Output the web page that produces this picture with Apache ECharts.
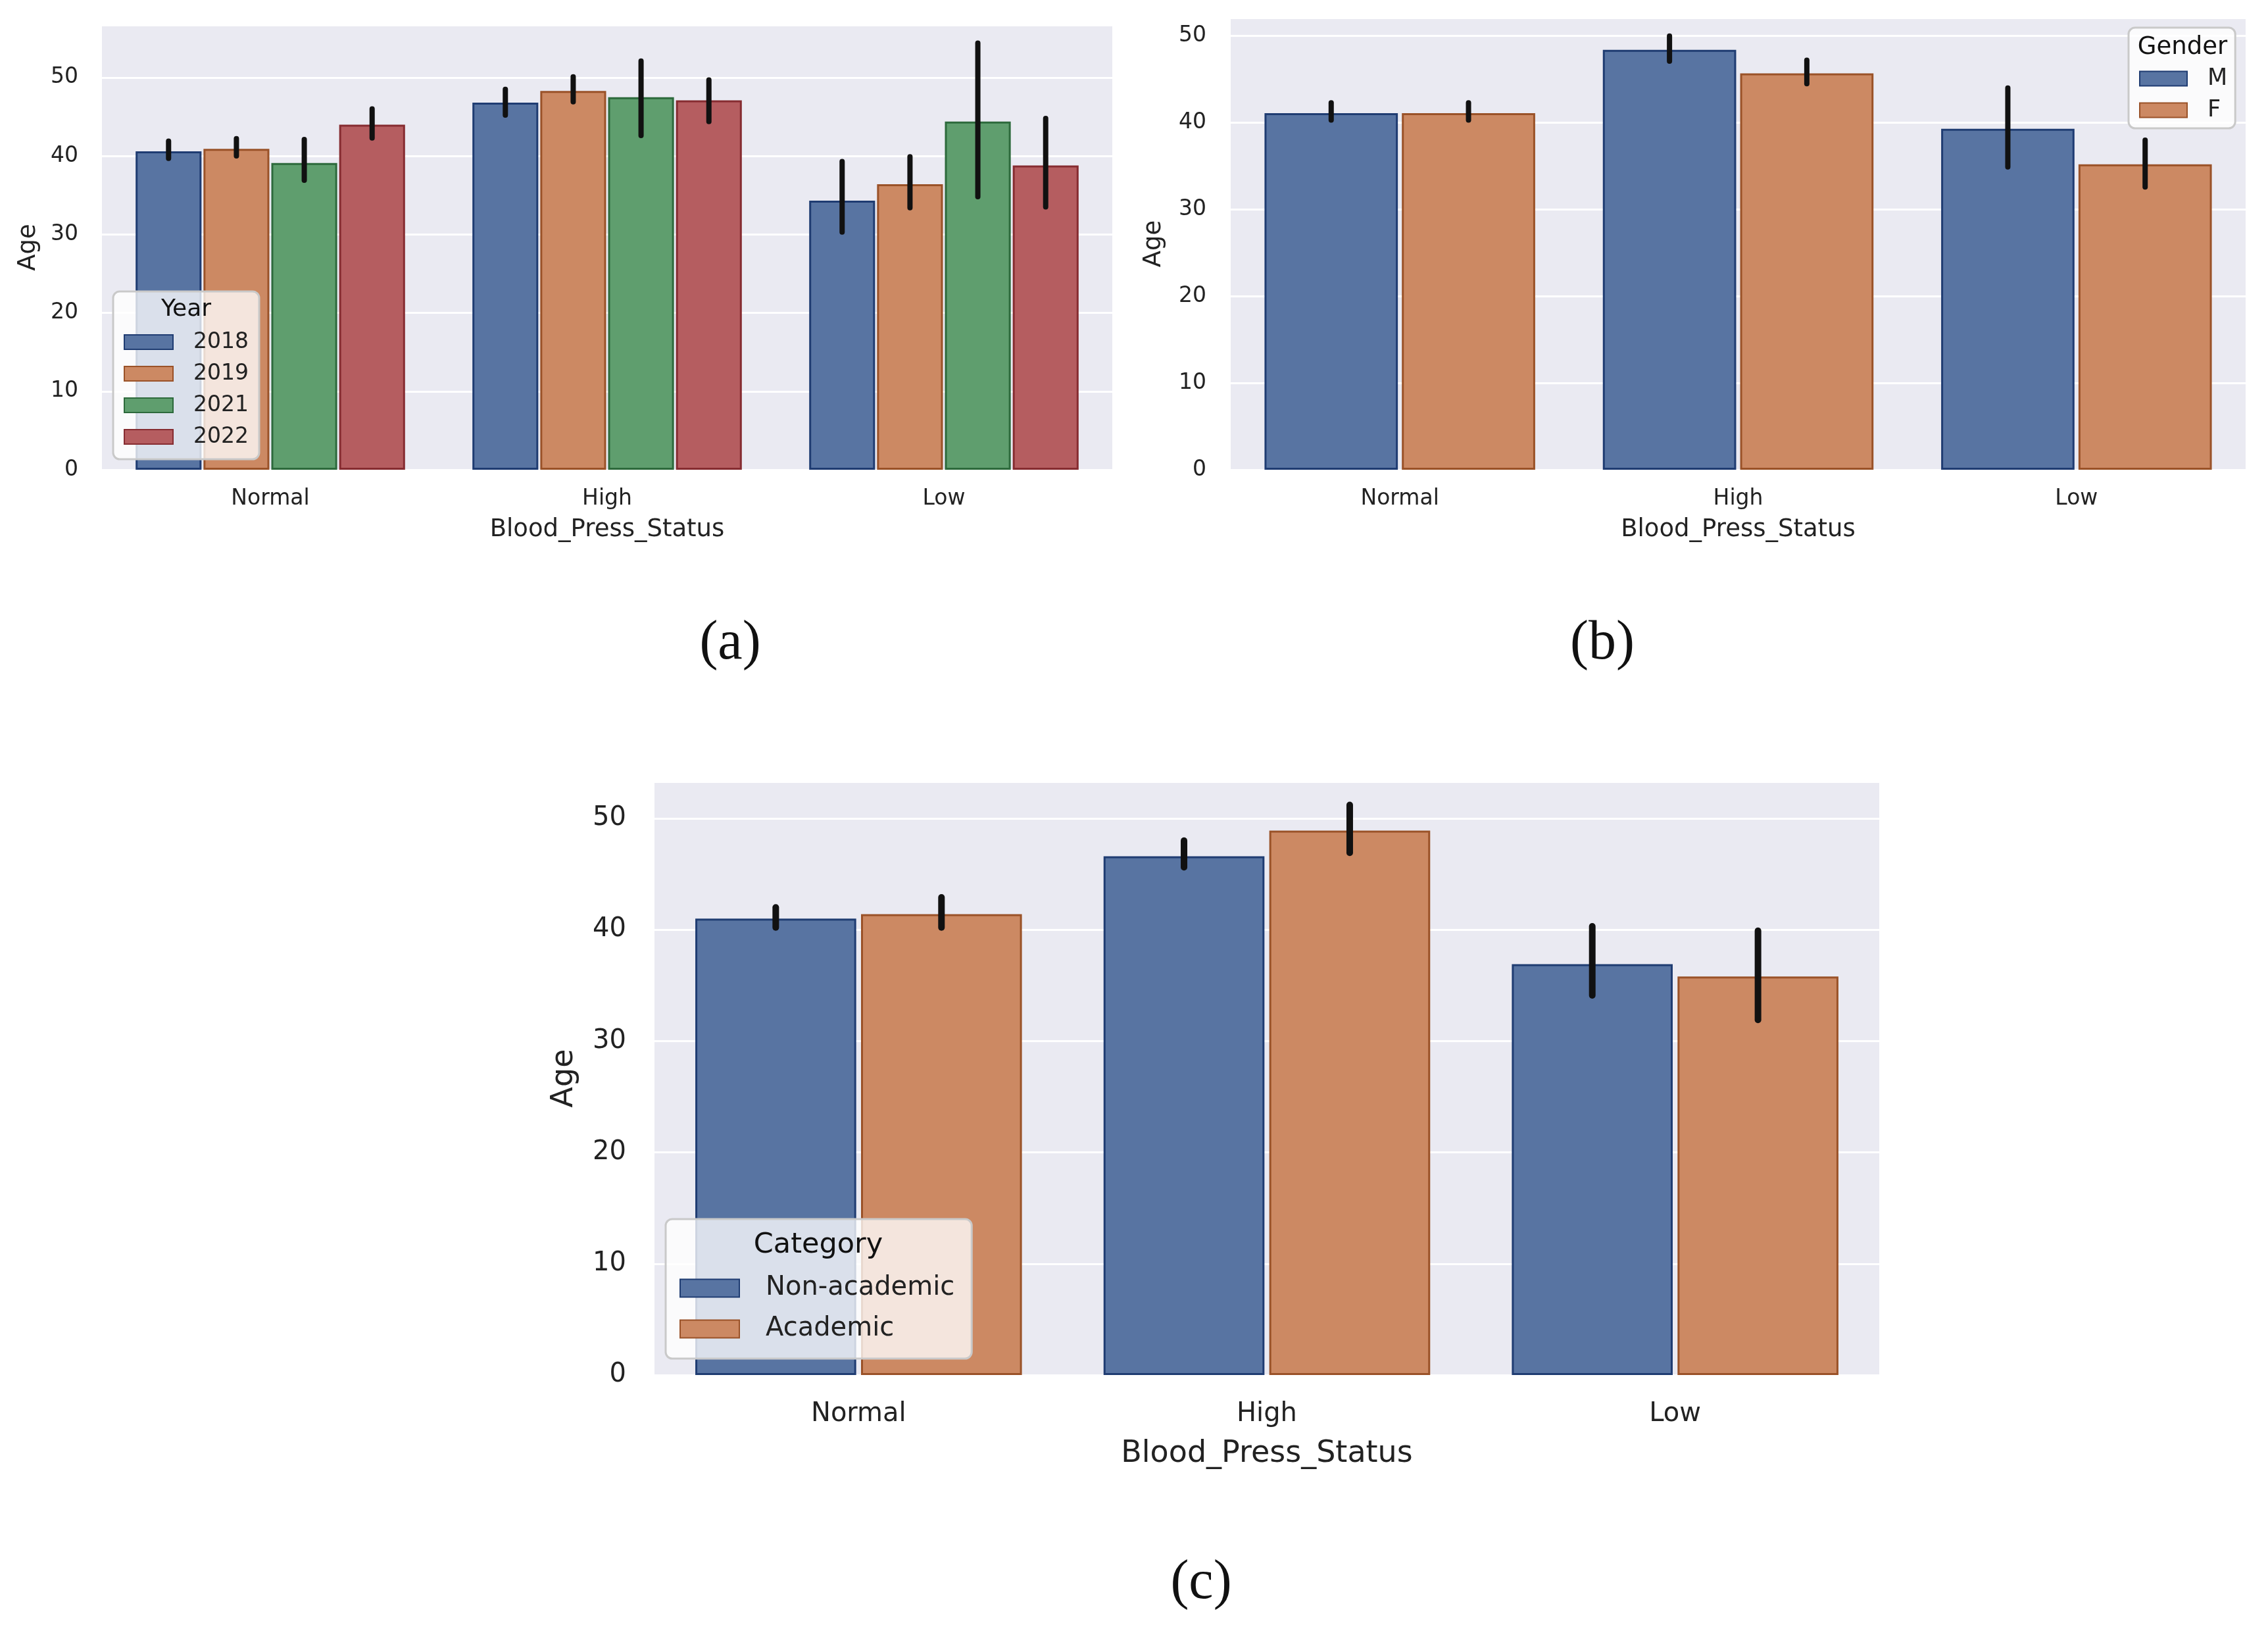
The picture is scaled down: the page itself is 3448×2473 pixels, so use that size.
<!DOCTYPE html>
<html>
<head>
<meta charset="utf-8">
<script src="https://cdn.jsdelivr.net/npm/echarts@6/dist/echarts.min.js"></script>
<style>
html,body{margin:0;padding:0;background:#fff;}
#c{width:3448px;height:2473px;}
</style>
</head>
<body>
<div id="c"></div>
<script>
// ---------- data ----------
const categories = ['Normal', 'High', 'Low'];

const yearNames = ['2018', '2019', '2021', '2022'];
const year2018Mean = [40.6, 46.8, 34.3];
const year2018Low  = [39.7, 45.2, 30.3];
const year2018High = [41.9, 48.5, 39.3];
const year2019Mean = [40.9, 48.3, 36.4];
const year2019Low  = [40.0, 46.9, 33.4];
const year2019High = [42.2, 50.1, 39.9];
const year2021Mean = [39.1, 47.5, 44.4];
const year2021Low  = [36.9, 42.6, 34.8];
const year2021High = [42.1, 52.1, 54.4];
const year2022Mean = [44.0, 47.1, 38.8];
const year2022Low  = [42.3, 44.4, 33.5];
const year2022High = [46.0, 49.7, 44.8];

const genderNames = ['M', 'F'];
const genderMMean = [41.1, 48.4, 39.3];
const genderMLow  = [40.3, 47.1, 34.9];
const genderMHigh = [42.3, 50.0, 44.0];
const genderFMean = [41.1, 45.7, 35.2];
const genderFLow  = [40.3, 44.5, 32.6];
const genderFHigh = [42.3, 47.2, 38.0];

const categoryNames = ['Non-academic', 'Academic'];
const nonAcademicMean = [41.0, 46.6, 36.9];
const nonAcademicLow  = [40.2, 45.6, 34.1];
const nonAcademicHigh = [42.0, 48.0, 40.3];
const academicMean = [41.4, 48.9, 35.8];
const academicLow  = [40.2, 46.9, 31.9];
const academicHigh = [42.9, 51.2, 39.9];

const yTicks = [0, 10, 20, 30, 40, 50];
const panelLabels = ['(a)', '(b)', '(c)'];

// ---------- styling ----------
const FONT = 'DejaVu Sans';
const fills   = ['#5874a2', '#cc8963', '#5f9e6e', '#b55d60'];
const borders = ['#1f3c72', '#9a5228', '#2d6a3c', '#862c31'];
const BAR_GAP = 0.03;

const panels = [
  { names: yearNames,
    means: [year2018Mean, year2019Mean, year2021Mean, year2022Mean],
    lows:  [year2018Low, year2019Low, year2021Low, year2022Low],
    highs: [year2018High, year2019High, year2021High, year2022High],
    grid: {left: 155, top: 38, width: 1536, height: 676}, ymax: 56.7,
    tick: 33, name: 37, xMargin: 28, xNameGap: 73, yMargin: 36, yNameGap: 93, errW: 8 },
  { names: genderNames,
    means: [genderMMean, genderFMean],
    lows:  [genderMLow, genderFLow],
    highs: [genderMHigh, genderFHigh],
    grid: {left: 1871, top: 27, width: 1543, height: 687}, ymax: 52.1,
    tick: 33, name: 37, xMargin: 28, xNameGap: 73, yMargin: 37, yNameGap: 98, errW: 8 },
  { names: categoryNames,
    means: [nonAcademicMean, academicMean],
    lows:  [nonAcademicLow, academicLow],
    highs: [nonAcademicHigh, academicHigh],
    grid: {left: 995, top: 1188, width: 1862, height: 902}, ymax: 53.3,
    tick: 40, name: 46, xMargin: 40, xNameGap: 97, yMargin: 43, yNameGap: 114, errW: 10 }
];

const grid = [], xAxis = [], yAxis = [], series = [];
panels.forEach((p, pi) => {
  grid.push(Object.assign({show: true, backgroundColor: '#eaeaf2', borderWidth: 0}, p.grid));
  xAxis.push({
    type: 'category', gridIndex: pi, data: categories,
    name: 'Blood_Press_Status', nameLocation: 'middle', nameGap: p.xNameGap,
    nameTextStyle: {fontFamily: FONT, fontSize: p.name, color: '#222222'},
    axisLine: {show: false}, axisTick: {show: false},
    axisLabel: {fontFamily: FONT, fontSize: p.tick, color: '#222222', margin: p.xMargin},
    splitLine: {show: false}
  });
  yAxis.push({
    type: 'value', gridIndex: pi, min: 0, max: p.ymax, interval: 10,
    name: 'Age', nameLocation: 'middle', nameGap: p.yNameGap,
    nameTextStyle: {fontFamily: FONT, fontSize: p.name, color: '#222222'},
    axisLine: {show: false}, axisTick: {show: false},
    axisLabel: {fontFamily: FONT, fontSize: p.tick, color: '#222222', margin: p.yMargin,
      formatter: v => (yTicks.indexOf(v) >= 0 ? String(v) : '')},
    splitLine: {show: true, lineStyle: {color: '#ffffff', width: 3}}
  });
  const n = p.names.length;
  p.names.forEach((nm, si) => {
    series.push({
      type: 'bar', name: nm, xAxisIndex: pi, yAxisIndex: pi,
      data: p.means[si],
      barCategoryGap: '20%', barGap: (BAR_GAP * 100) + '%',
      itemStyle: {color: fills[si], borderColor: borders[si], borderWidth: 3},
      emphasis: {disabled: true}, z: 2
    });
  });
  p.names.forEach((nm, si) => {
    const d = categories.map((c, ci) => [ci, p.lows[si][ci], p.highs[si][ci]]);
    series.push({
      type: 'custom', xAxisIndex: pi, yAxisIndex: pi, z: 3, silent: true,
      data: d,
      renderItem: function (params, api) {
        const ci = api.value(0);
        const a = api.coord([ci, api.value(1)]);
        const b = api.coord([ci, api.value(2)]);
        const cw = api.size([1, 0])[0];
        const bw = cw * 0.8 / (n + (n - 1) * BAR_GAP);
        const total = n * bw + (n - 1) * bw * BAR_GAP;
        const off = -total / 2 + si * bw * (1 + BAR_GAP) + bw / 2;
        return {type: 'line',
          shape: {x1: a[0] + off, y1: a[1], x2: b[0] + off, y2: b[1]},
          style: {stroke: '#111111', lineWidth: p.errW, lineCap: 'round'}};
      }
    });
  });
});

const legendBase = {
  orient: 'vertical', selectedMode: false, icon: 'rect',
  backgroundColor: 'rgba(255,255,255,0.78)', borderColor: '#c9c9c9',
  borderWidth: 3, borderRadius: 10
};
const legend = [
  Object.assign({}, legendBase, {
    data: yearNames, left: 172, top: 443, itemWidth: 74, itemHeight: 22, itemGap: 14,
    padding: [60, 16, 17, 16],
    textStyle: {fontFamily: FONT, fontSize: 33, lineHeight: 34, color: '#222222', padding: [0, 0, 0, 26]}
  }),
  Object.assign({}, legendBase, {
    data: genderNames, left: 3236, top: 42, itemWidth: 72, itemHeight: 22, itemGap: 13,
    padding: [60, 12, 10, 16],
    textStyle: {fontFamily: FONT, fontSize: 35, lineHeight: 35, color: '#222222', padding: [0, 0, 0, 26]}
  }),
  Object.assign({}, legendBase, {
    data: categoryNames, left: 1012, top: 1853, itemWidth: 90, itemHeight: 27, itemGap: 22,
    padding: [85, 26, 25, 21],
    textStyle: {fontFamily: FONT, fontSize: 40, lineHeight: 40, color: '#222222', padding: [0, 0, 0, 35]}
  })
];

function txt(t, x, y, size, family) {
  return {type: 'text', z: 100, x: x, y: y,
    style: {text: t, fill: '#111', font: size + 'px "' + family + '"', textAlign: 'center', textVerticalAlign: 'middle'}};
}
const graphic = [
  txt('Year', 283, 471, 36, FONT),
  txt('Gender', 3318, 72, 37, FONT),
  txt('Category', 1244, 1893, 43, FONT),
  txt(panelLabels[0], 1110, 979, 84, 'Liberation Serif'),
  txt(panelLabels[1], 2436, 979, 84, 'Liberation Serif'),
  txt(panelLabels[2], 1826, 2407, 84, 'Liberation Serif')
];

const chart = echarts.init(document.getElementById('c'));
chart.setOption({
  animation: false,
  backgroundColor: '#ffffff',
  grid: grid, xAxis: xAxis, yAxis: yAxis, series: series,
  legend: legend, graphic: graphic
});
</script>
</body>
</html>
